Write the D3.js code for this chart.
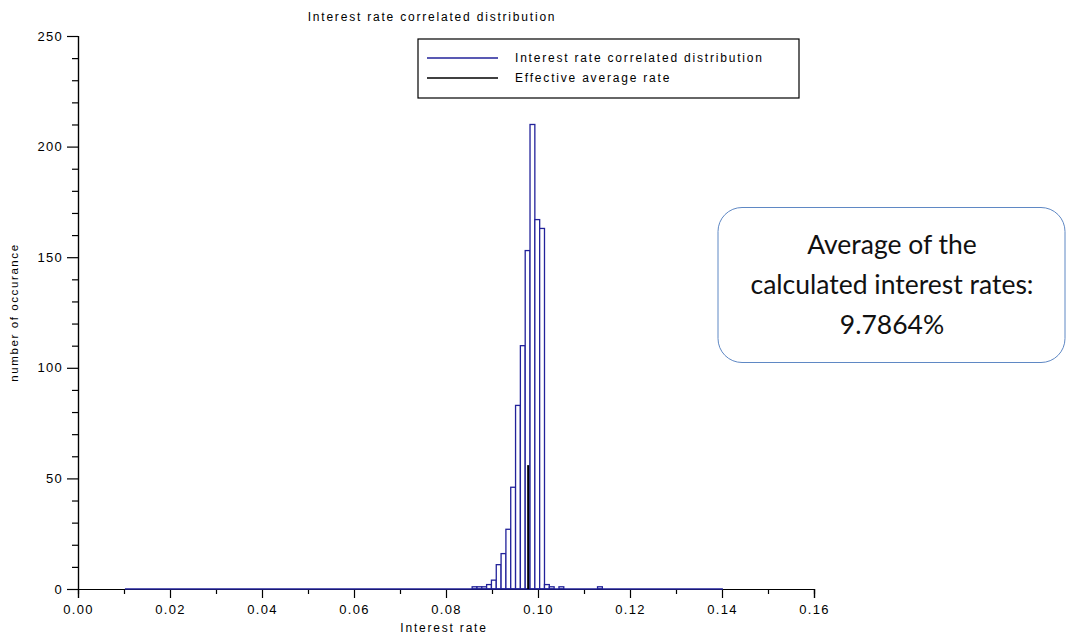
<!DOCTYPE html>
<html>
<head>
<meta charset="utf-8">
<script src="https://cdn.jsdelivr.net/npm/d3@7/dist/d3.min.js"></script>
<style>
  html, body { margin: 0; padding: 0; background: #fff; }
  svg { display: block; }
</style>
</head>
<body>
<svg id="chart" width="1066" height="638"></svg>
<script>
// ---------------- data ----------------
const chartTitle = "Interest rate correlated distribution";
const xLabel = "Interest rate";
const yLabel = "number of occurance";
const legendLabels = ["Interest rate correlated distribution", "Effective average rate"];
const xTicks = [0, 0.02, 0.04, 0.06, 0.08, 0.10, 0.12, 0.14, 0.16];
const yTicks = [0, 50, 100, 150, 200, 250];
const histRange = [0.0102, 0.1402];        // span of the histogram classes
const binWidth = 0.0010484;                // width of one class
const binIndex  = [72, 73, 74, 75, 76, 77, 78, 79, 80, 81, 82, 83, 84, 85, 86, 87, 88, 90, 98];
const binCounts = [ 1,  1,  1,  2,  4, 11, 16, 27, 46, 83,110,153,210,167,163,  2,  1,  1,  1];
const averageRate = 0.097864;
const averageHeight = 56;
const noteLines = ["Average of the", "calculated interest rates:", "9.7864%"];

// ---------------- layout ----------------
const svg = d3.select("#chart");
const x = d3.scaleLinear().domain([0, 0.16]).range([78, 814]);
const y = d3.scaleLinear().domain([0, 250]).range([589, 36]);
const blue = "#22229a";
const font = "'Liberation Sans', Arial, sans-serif";

// histogram bars
const bars = binIndex.map((b, i) => ({ x0: histRange[0] + b * binWidth, count: binCounts[i] }));
svg.append("g").selectAll("rect").data(bars).join("rect")
  .attr("x", d => x(d.x0))
  .attr("y", d => y(d.count))
  .attr("width", x(binWidth) - x(0))
  .attr("height", d => y(0) - y(d.count))
  .attr("fill", "#fff")
  .attr("stroke", blue)
  .attr("stroke-width", 1.3);

// axes
const xAxis = d3.axisBottom(x).tickValues(xTicks).tickFormat(d3.format(".2f")).tickSize(9).tickPadding(7);
const xMinor = d3.axisBottom(x).tickValues(d3.range(0.01, 0.16, 0.02)).tickFormat("").tickSize(5);
const yAxis = d3.axisLeft(y).tickValues(yTicks).tickSize(11).tickPadding(4);
const yMinor = d3.axisLeft(y).tickValues(d3.range(0, 251, 10).filter(v => v % 50 !== 0)).tickFormat("").tickSize(6);

function styleAxis(g) {
  g.select(".domain").attr("stroke", "#000").attr("stroke-width", 1.2);
  g.selectAll(".tick line").attr("stroke", "#000").attr("stroke-width", 1.2);
  g.selectAll(".tick text").attr("fill", "#000").style("font-family", font).style("font-size", "13px").style("letter-spacing", "1.3px");
}
svg.append("g").attr("transform", `translate(0,${y(0)})`).call(xMinor).call(styleAxis);
svg.append("g").attr("transform", `translate(0,${y(0)})`).call(xAxis).call(styleAxis);
svg.append("g").attr("transform", `translate(${x(0)},0)`).call(yMinor).call(styleAxis);
svg.append("g").attr("transform", `translate(${x(0)},0)`).call(yAxis).call(styleAxis);

// zero-count classes along the baseline
svg.append("line")
  .attr("x1", x(histRange[0])).attr("x2", x(histRange[1]))
  .attr("y1", y(0)).attr("y2", y(0))
  .attr("stroke", blue).attr("stroke-width", 1.3);

// average rate line
svg.append("line")
  .attr("x1", x(averageRate)).attr("x2", x(averageRate))
  .attr("y1", y(0)).attr("y2", y(averageHeight))
  .attr("stroke", "#000").attr("stroke-width", 2);

// titles
svg.append("text").attr("x", 432).attr("y", 21).attr("text-anchor", "middle")
  .style("font-family", font).style("font-size", "12px").style("letter-spacing", "1.8px")
  .text(chartTitle);
svg.append("text").attr("x", 444).attr("y", 632).attr("text-anchor", "middle")
  .style("font-family", font).style("font-size", "12px").style("letter-spacing", "1.8px")
  .text(xLabel);
svg.append("text").attr("transform", `translate(18,${(y(0) + y(250)) / 2}) rotate(-90)`).attr("text-anchor", "middle")
  .style("font-family", font).style("font-size", "11.5px").style("letter-spacing", "1.6px")
  .text(yLabel);

// legend
const lg = svg.append("g");
lg.append("rect").attr("x", 418).attr("y", 39).attr("width", 381).attr("height", 59)
  .attr("fill", "#fff").attr("stroke", "#000").attr("stroke-width", 1.2);
const legendColors = [blue, "#000"];
legendLabels.forEach((t, i) => {
  const ly = 58 + i * 20;
  lg.append("line").attr("x1", 427).attr("x2", 498).attr("y1", ly).attr("y2", ly)
    .attr("stroke", legendColors[i]).attr("stroke-width", 1.3);
  lg.append("text").attr("x", 515).attr("y", ly + 4)
    .style("font-family", font).style("font-size", "12px").style("letter-spacing", "1.8px")
    .text(t);
});

// annotation box
const nb = svg.append("g");
nb.append("rect").attr("x", 718).attr("y", 207.5).attr("width", 347).attr("height", 155)
  .attr("rx", 24).attr("ry", 24)
  .attr("fill", "#fff").attr("stroke", "#5f88c4").attr("stroke-width", 1);
noteLines.forEach((t, i) => {
  nb.append("text").attr("x", 892).attr("y", 254 + i * 40).attr("text-anchor", "middle")
    .style("font-family", "Lato, 'Open Sans', sans-serif").style("font-size", "26.5px").attr("fill", "#111")
    .text(t);
});
</script>
</body>
</html>
